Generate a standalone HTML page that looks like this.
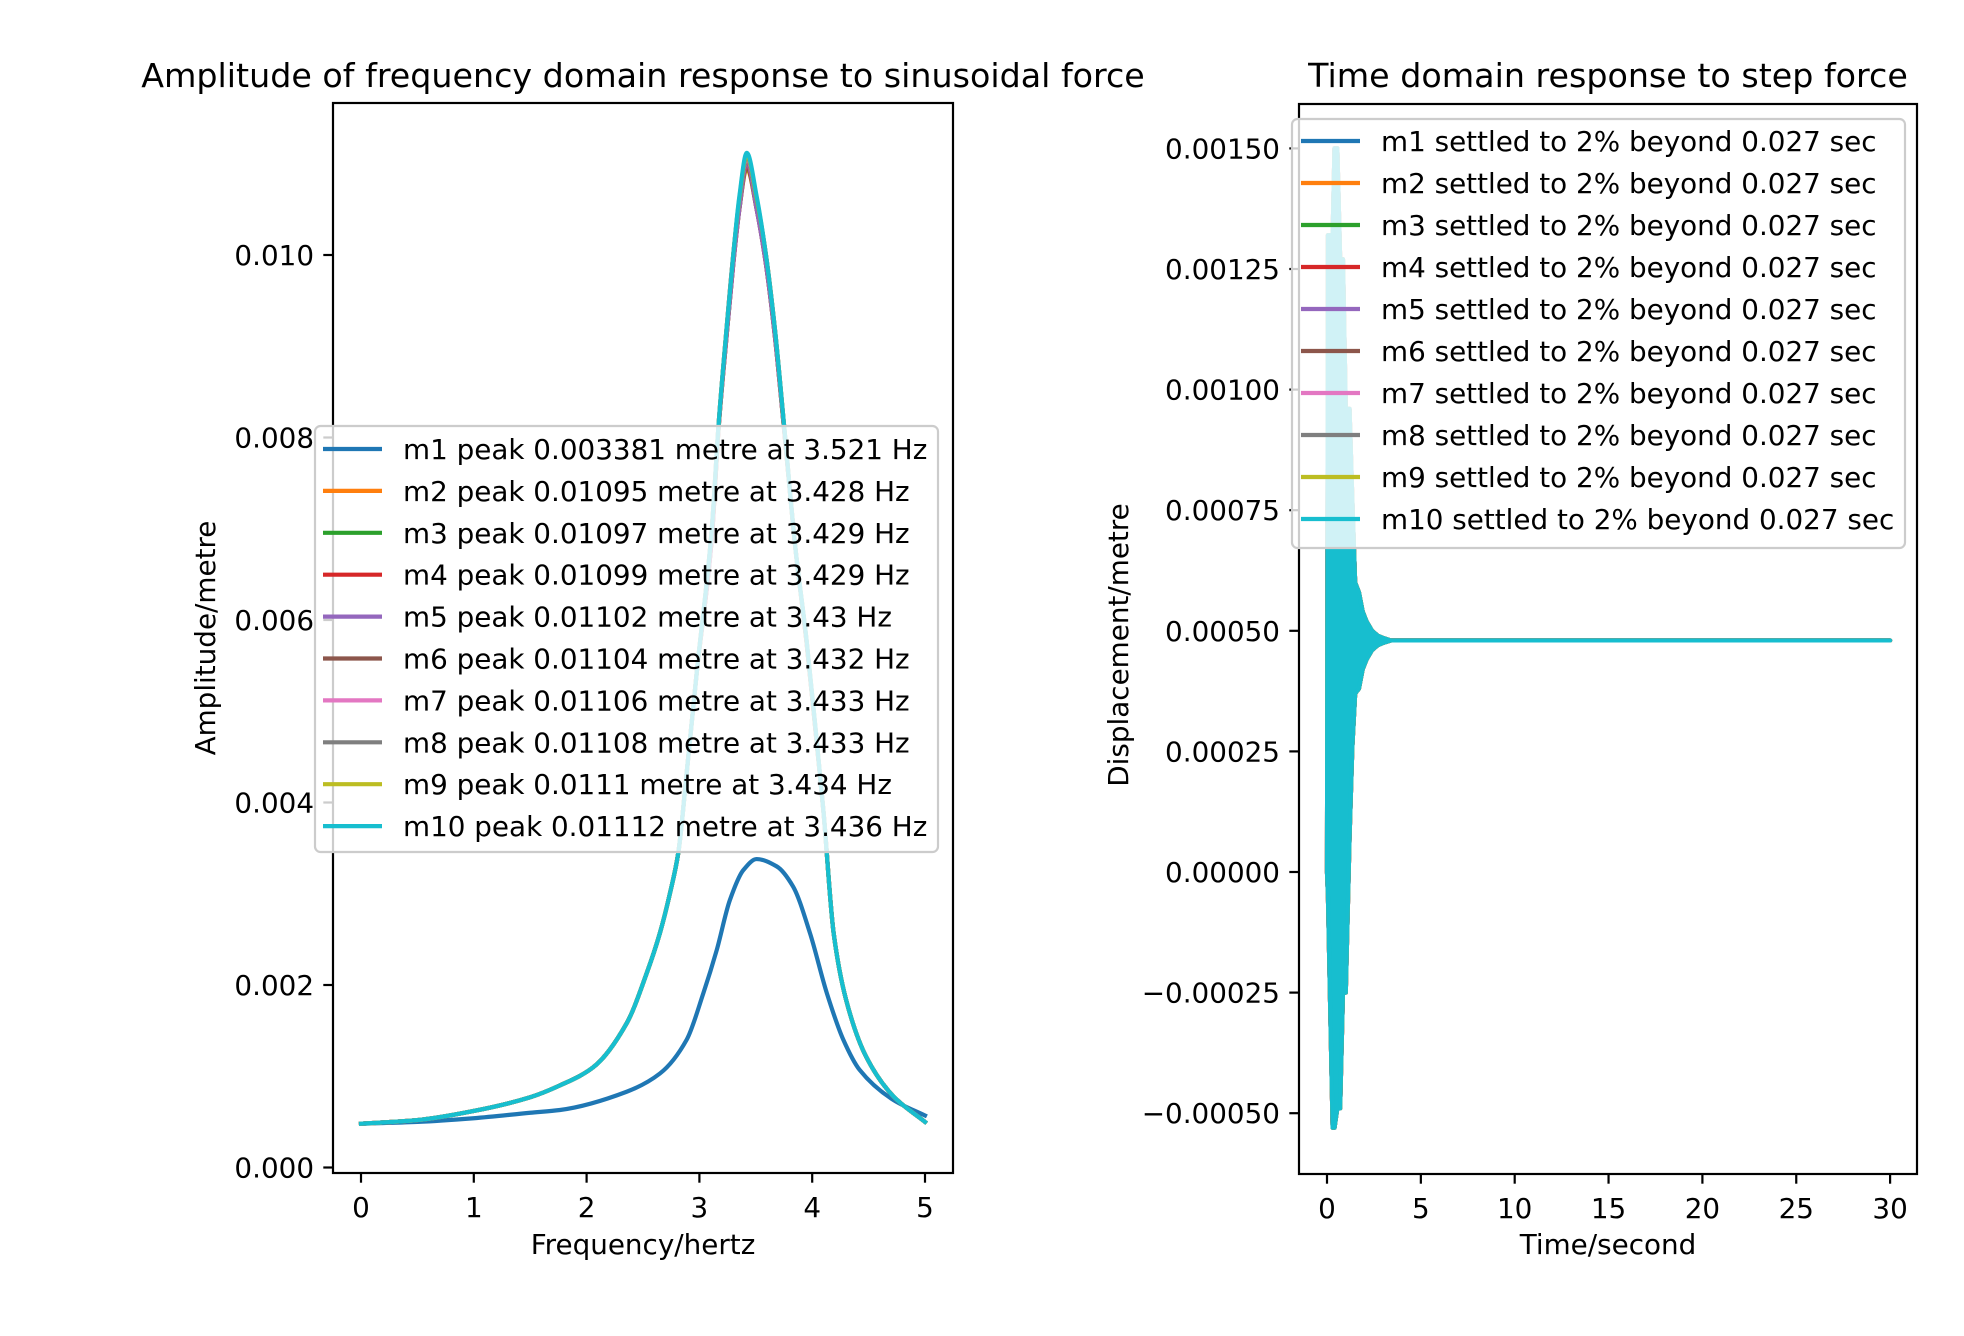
<!DOCTYPE html>
<html>
<head>
<meta charset="utf-8">
<style>
  html,body{margin:0;padding:0;background:#fff;}
  svg{display:block;}
  text{font-family:"DejaVu Sans","Liberation Sans",sans-serif;fill:#000;}
</style>
</head>
<body>
<svg id="fig" width="1964" height="1336" viewBox="0 0 1964 1336" xmlns="http://www.w3.org/2000/svg">
  <rect x="0" y="0" width="1964" height="1336" fill="#fff"/>
  <g id="left"></g>
  <g id="right"></g>
</svg>
<script>
// ---------- Data: frequency response (left) ----------
const seriesNames = ["m1","m2","m3","m4","m5","m6","m7","m8","m9","m10"];
const seriesColors = ["#1f77b4","#ff7f0e","#2ca02c","#d62728","#9467bd","#8c564b","#e377c2","#7f7f7f","#bcbd22","#17becf"];
const freqLabels = ["m1 peak 0.003381 metre at 3.521 Hz","m2 peak 0.01095 metre at 3.428 Hz","m3 peak 0.01097 metre at 3.429 Hz","m4 peak 0.01099 metre at 3.429 Hz","m5 peak 0.01102 metre at 3.43 Hz","m6 peak 0.01104 metre at 3.432 Hz","m7 peak 0.01106 metre at 3.433 Hz","m8 peak 0.01108 metre at 3.433 Hz","m9 peak 0.0111 metre at 3.434 Hz","m10 peak 0.01112 metre at 3.436 Hz"];
const freqM1 = [0,0.5,1,1.5,1.764,2.355,2.65,2.887,3.035,3.153,3.27,3.39,3.508,3.685,3.83,3.98,4.13,4.276,4.42,4.72,5];
const ampM1 = [0.00048,0.0005,0.00054,0.0006,0.00063,0.00083,0.00103,0.0014,0.00191,0.00238,0.00293,0.00326,0.00338,0.0033,0.00308,0.00257,0.00191,0.0014,0.00107,0.00074,0.00057];
const freqMx = [0,0.5,1,1.5,1.764,2.06,2.355,2.533,2.65,2.74,2.813,2.887,2.976,3.11,3.17,3.24,3.30,3.354,3.42,3.508,3.59,3.67,3.75,3.85,3.95,4.04,4.1,4.19,4.3,4.48,4.72,5];
const ampM2 = [0.00048,0.00052,0.00062,0.00077,0.0009,0.0011,0.00158,0.00213,0.00257,0.00301,0.00345,0.00432,0.00542,0.0069,0.0081,0.0091,0.0099,0.0105,0.01095,0.0105,0.0099,0.0091,0.0081,0.0068,0.00575,0.00465,0.0039,0.00257,0.00184,0.00121,0.00078,0.0005];
const ampM3 = [0.00048,0.00052,0.00062,0.00077,0.0009,0.0011,0.00158,0.00213,0.00257,0.00301,0.00345,0.00432,0.00542,0.0069,0.0081,0.0091,0.0099,0.0105,0.01097,0.0105,0.0099,0.0091,0.0081,0.0068,0.00575,0.00465,0.0039,0.00257,0.00184,0.00121,0.00078,0.0005];
const ampM4 = [0.00048,0.00052,0.00062,0.00077,0.0009,0.0011,0.00158,0.00213,0.00257,0.00301,0.00345,0.00432,0.00542,0.0069,0.0081,0.0091,0.0099,0.0105,0.01099,0.0105,0.0099,0.0091,0.0081,0.0068,0.00576,0.00466,0.0039,0.00257,0.00184,0.00121,0.00078,0.0005];
const ampM5 = [0.00048,0.00052,0.00062,0.00077,0.0009,0.0011,0.00158,0.00213,0.00257,0.00301,0.00345,0.00432,0.00542,0.0069,0.0081,0.0091,0.0099,0.0105,0.01102,0.0105,0.0099,0.0091,0.0081,0.0068,0.00576,0.00466,0.0039,0.00257,0.00184,0.00121,0.00078,0.0005];
const ampM6 = [0.00048,0.00052,0.00062,0.00077,0.0009,0.0011,0.00158,0.00213,0.00257,0.00301,0.00345,0.00432,0.00542,0.007,0.00814,0.00918,0.01,0.0106,0.01104,0.0106,0.01,0.00918,0.00814,0.0068,0.00577,0.00467,0.0039,0.00257,0.00184,0.00121,0.00078,0.0005];
const ampM7 = [0.00048,0.00052,0.00062,0.00077,0.0009,0.0011,0.00158,0.00213,0.00257,0.00301,0.00345,0.00432,0.00542,0.007,0.00814,0.00918,0.01,0.0106,0.01106,0.0106,0.01,0.00918,0.00814,0.0068,0.00577,0.00467,0.0039,0.00257,0.00184,0.00121,0.00078,0.0005];
const ampM8 = [0.00048,0.00052,0.00062,0.00077,0.0009,0.0011,0.00158,0.00213,0.00257,0.00301,0.00345,0.00432,0.00542,0.007,0.00814,0.00918,0.01,0.0106,0.01108,0.0106,0.01,0.00918,0.00814,0.0068,0.00578,0.00468,0.0039,0.00257,0.00184,0.00121,0.00078,0.0005];
const ampM9 = [0.00048,0.00052,0.00062,0.00077,0.0009,0.0011,0.00158,0.00213,0.00257,0.00301,0.00345,0.00432,0.00542,0.007,0.00814,0.00918,0.01,0.01062,0.0111,0.01062,0.01,0.00918,0.00814,0.0068,0.00578,0.00468,0.0039,0.00257,0.00184,0.00121,0.00078,0.0005];
const ampM10 = [0.00048,0.00052,0.00062,0.00077,0.0009,0.0011,0.00158,0.00213,0.00257,0.00301,0.00345,0.00432,0.00542,0.007,0.00814,0.00918,0.01,0.01064,0.01112,0.01064,0.01,0.00918,0.00814,0.0068,0.00578,0.00468,0.0039,0.00257,0.00184,0.00121,0.00078,0.0005];
const freqTicks = [0,1,2,3,4,5];
const ampTicks = [0,0.002,0.004,0.006,0.008,0.010];
const ampTickLabels = ["0.000","0.002","0.004","0.006","0.008","0.010"];

// ---------- Data: step response (right), oscillation envelope ----------
const timeLabels = seriesNames.map(n => n + " settled to 2% beyond 0.027 sec");
const envTime  = [0,0.05,0.3,0.4,0.55,0.7,0.85,1.0,1.2,1.35,1.5,1.7,1.9,2.1,2.4,2.7,3.0,3.4,4.0,30];
const envUpper = [0,0.00132,0.00132,0.0015,0.0015,0.00127,0.00127,0.00096,0.00096,0.00077,0.0006,0.00058,0.00054,0.00052,0.0005,0.00049,0.000485,0.00048,0.00048,0.00048];
const envLower = [0,-0.00005,-0.00053,-0.00053,-0.00049,-0.00049,-0.00025,-0.00025,0.00007,0.00026,0.00037,0.00038,0.00042,0.00044,0.00046,0.00047,0.000475,0.00048,0.00048,0.00048];
const timeTicks = [0,5,10,15,20,25,30];
const dispTicks = [-0.0005,-0.00025,0,0.00025,0.0005,0.00075,0.001,0.00125,0.0015];
const dispTickLabels = ["\u22120.00050","\u22120.00025","0.00000","0.00025","0.00050","0.00075","0.00100","0.00125","0.00150"];

const NS = "http://www.w3.org/2000/svg";
function mk(tag, attrs, parent){
  const e = document.createElementNS(NS, tag);
  for (const k in attrs) e.setAttribute(k, attrs[k]);
  if (parent) parent.appendChild(e);
  return e;
}
// monotone cubic (Fritsch-Carlson) path through points with increasing x
function smoothPath(pts){
  const n = pts.length;
  const dx = [], m = [];
  for (let i=0;i<n-1;i++){ dx.push(pts[i+1][0]-pts[i][0]); m.push((pts[i+1][1]-pts[i][1])/dx[i]); }
  const t = new Array(n);
  t[0] = m[0]; t[n-1] = m[n-2];
  for (let i=1;i<n-1;i++){
    if (m[i-1]*m[i] <= 0) t[i] = 0;
    else {
      const w1 = 2*dx[i]+dx[i-1], w2 = dx[i]+2*dx[i-1];
      t[i] = (w1+w2)/(w1/m[i-1] + w2/m[i]);
    }
  }
  let d = "M" + pts[0][0].toFixed(2) + "," + pts[0][1].toFixed(2);
  for (let i=0;i<n-1;i++){
    const h = dx[i]/3;
    d += " C" + (pts[i][0]+h).toFixed(2)+","+(pts[i][1]+t[i]*h).toFixed(2)+" "+
         (pts[i+1][0]-h).toFixed(2)+","+(pts[i+1][1]-t[i+1]*h).toFixed(2)+" "+
         pts[i+1][0].toFixed(2)+","+pts[i+1][1].toFixed(2);
  }
  return d;
}

// ---------- Left chart ----------
const L = {x0:333, x1:953, y0:103, y1:1173};
const fx = f => 361 + f * 112.8;
const fy = a => 1167.5 - a * 91250;
const left = document.getElementById('left');

const lt = mk('text', {x:643, y:87, 'font-size':33.3, 'text-anchor':'middle'}, left);
lt.textContent = "Amplitude of frequency domain response to sinusoidal force";



const lSeries = [[freqM1,ampM1],[freqMx,ampM2],[freqMx,ampM3],[freqMx,ampM4],[freqMx,ampM5],[freqMx,ampM6],[freqMx,ampM7],[freqMx,ampM8],[freqMx,ampM9],[freqMx,ampM10]];
lSeries.forEach((s, i) => {
  const pts = s[0].map((f, j) => [fx(f), fy(s[1][j])]);
  const p = mk('path', {d:smoothPath(pts), fill:'none', stroke:seriesColors[i], 'stroke-width':4.2, 'stroke-linejoin':'round', 'stroke-linecap':'square'}, left);
  
  
});

const lFrame = mk('rect', {x:L.x0, y:L.y0, width:L.x1-L.x0, height:L.y1-L.y0, fill:'none', stroke:'#000', 'stroke-width':2.2}, left);



freqTicks.forEach(t => {
  const x = fx(t);
  mk('line', {x1:x, y1:L.y1, x2:x, y2:L.y1+9.7, stroke:'#000', 'stroke-width':2.2}, left);
  const tx = mk('text', {x:x, y:1217, 'font-size':27.8, 'text-anchor':'middle'}, left);
  tx.textContent = String(t);
  
  
});
ampTicks.forEach((t, i) => {
  const y = fy(t);
  mk('line', {x1:L.x0-9.7, y1:y, x2:L.x0, y2:y, stroke:'#000', 'stroke-width':2.2}, left);
  const tx = mk('text', {x:L.x0-19, y:y+10, 'font-size':27.8, 'text-anchor':'end'}, left);
  tx.textContent = ampTickLabels[i];
  
  
});
const lxl = mk('text', {x:643, y:1254, 'font-size':27.8, 'text-anchor':'middle'}, left);
lxl.textContent = "Frequency/hertz";


const lyl = mk('text', {x:0, y:0, 'font-size':27.8, 'text-anchor':'middle', transform:'translate(215,638) rotate(-90)'}, left);
lyl.textContent = "Amplitude/metre";



// legend left
const lLeg = mk('g', {}, left);


mk('rect', {x:315, y:426, width:623, height:426, rx:5.5, fill:'rgba(255,255,255,0.8)', stroke:'#cccccc', 'stroke-width':2.2}, lLeg);
freqLabels.forEach((lab, i) => {
  const y = 449 + i*41.9;
  const ln = mk('line', {x1:323, y1:y, x2:382, y2:y, stroke:seriesColors[i], 'stroke-width':4.2}, lLeg);
  
  
  const tx = mk('text', {x:403, y:y+10, 'font-size':27.8}, lLeg);
  tx.textContent = lab;
  
  
});

// ---------- Right chart ----------
const R = {x0:1299, x1:1917, y0:104, y1:1174};
const tx_ = t => 1327 + t * 18.77;
const ty_ = v => 872 - v / 0.00025 * 120.6;
const right = document.getElementById('right');

const rt = mk('text', {x:1608, y:87, 'font-size':33.3, 'text-anchor':'middle'}, right);
rt.textContent = "Time domain response to step force";



seriesNames.forEach((n, i) => {
  const up = envTime.map((t, j) => tx_(t).toFixed(2) + "," + ty_(envUpper[j]).toFixed(2));
  const lo = envTime.map((t, j) => tx_(t).toFixed(2) + "," + ty_(envLower[j]).toFixed(2)).reverse();
  const pg = mk('polygon', {points: up.concat(lo).join(' '), fill:seriesColors[i], stroke:seriesColors[i], 'stroke-width':4.2, 'stroke-linejoin':'round'}, right);
  
  
});

const rFrame = mk('rect', {x:R.x0, y:R.y0, width:R.x1-R.x0, height:R.y1-R.y0, fill:'none', stroke:'#000', 'stroke-width':2.2}, right);



timeTicks.forEach(t => {
  const x = tx_(t);
  mk('line', {x1:x, y1:R.y1, x2:x, y2:R.y1+9.7, stroke:'#000', 'stroke-width':2.2}, right);
  const tt = mk('text', {x:x, y:1218, 'font-size':27.8, 'text-anchor':'middle'}, right);
  tt.textContent = String(t);
  
  
});
dispTicks.forEach((t, i) => {
  const y = ty_(t);
  mk('line', {x1:R.x0-9.7, y1:y, x2:R.x0, y2:y, stroke:'#000', 'stroke-width':2.2}, right);
  const tt = mk('text', {x:R.x0-19, y:y+10, 'font-size':27.8, 'text-anchor':'end'}, right);
  tt.textContent = dispTickLabels[i];
  
  
});
const rxl = mk('text', {x:1608, y:1254, 'font-size':27.8, 'text-anchor':'middle'}, right);
rxl.textContent = "Time/second";


const ryl = mk('text', {x:0, y:0, 'font-size':27.8, 'text-anchor':'middle', transform:'translate(1128,645) rotate(-90)'}, right);
ryl.textContent = "Displacement/metre";



const rLeg = mk('g', {}, right);


mk('rect', {x:1292, y:119, width:613, height:429, rx:5.5, fill:'rgba(255,255,255,0.8)', stroke:'#cccccc', 'stroke-width':2.2}, rLeg);
timeLabels.forEach((lab, i) => {
  const y = 141 + i*42;
  const ln = mk('line', {x1:1301, y1:y, x2:1360, y2:y, stroke:seriesColors[i], 'stroke-width':4.2}, rLeg);
  
  
  const tt = mk('text', {x:1381, y:y+10, 'font-size':27.8}, rLeg);
  tt.textContent = lab;
  
  
});
</script>
</body>
</html>
